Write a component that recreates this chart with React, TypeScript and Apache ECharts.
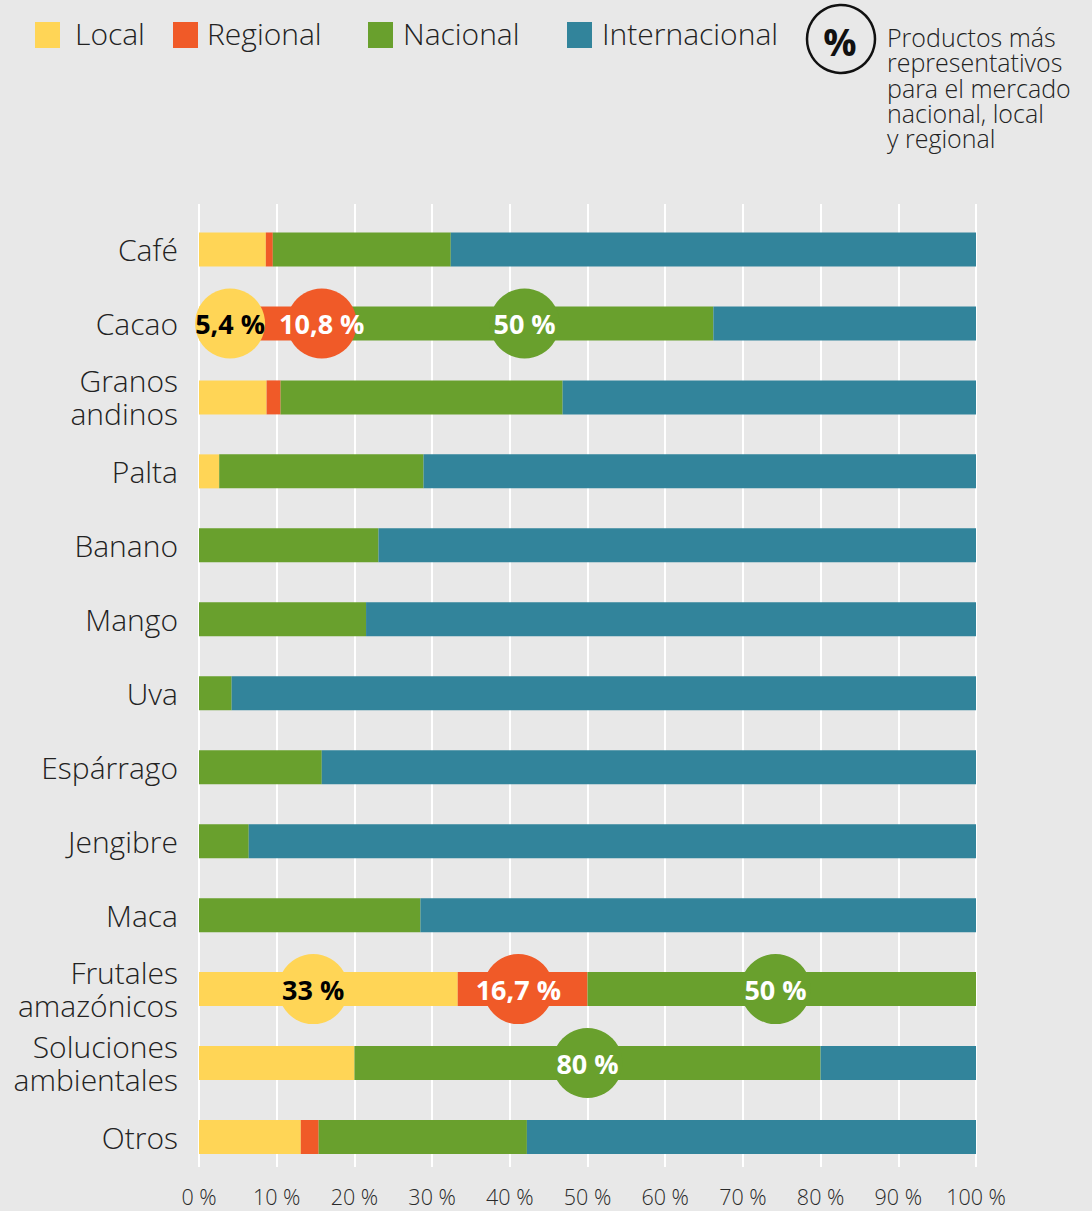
import React, { useEffect, useRef } from "react";
import * as echarts from "echarts";

// Products, top to bottom
const categories = [
  "Café",
  "Cacao",
  "Granos\nandinos",
  "Palta",
  "Banano",
  "Mango",
  "Uva",
  "Espárrago",
  "Jengibre",
  "Maca",
  "Frutales\namazónicos",
  "Soluciones\nambientales",
  "Otros",
];

// Share of each market (%)
const localValues = [8.6, 5.4, 8.7, 2.6, 0, 0, 0, 0, 0, 0, 33.3, 20, 13.1];
const regionalValues = [0.9, 10.8, 1.8, 0, 0, 0, 0, 0, 0, 0, 16.7, 0, 2.3];
const nacionalValues = [22.9, 50, 36.3, 26.3, 23.1, 21.5, 4.2, 15.8, 6.4, 28.5, 50, 60, 26.8];
const internacionalValues = [67.6, 33.8, 53.2, 71.1, 76.9, 78.5, 95.8, 84.2, 93.6, 71.5, 0, 20, 57.8];

// Highlighted shares (bubbles)
const bubbleCategories = [
  "Cacao",
  "Cacao",
  "Cacao",
  "Frutales\namazónicos",
  "Frutales\namazónicos",
  "Frutales\namazónicos",
  "Soluciones\nambientales",
];
const bubbleX = [4, 15.8, 41.9, 14.7, 41.1, 74.2, 50];
const bubbleLabels = ["5,4 %", "10,8 %", "50 %", "33 %", "16,7 %", "50 %", "80 %"];
const bubbleMarket = [0, 1, 2, 0, 1, 2, 2];

const xTicks = [0, 10, 20, 30, 40, 50, 60, 70, 80, 90, 100];

const seriesNames = ["Local", "Regional", "Nacional", "Internacional"];
const colors = ["#FFD556", "#F05A28", "#69A02D", "#32849B"];
const textColor = "#222222";
const font = "Open Sans";

export default function App() {
  const ref = useRef<HTMLDivElement>(null);

  useEffect(() => {
    if (!ref.current) return;
    const chart = echarts.init(ref.current, null, { renderer: "svg" });

    const values = [localValues, regionalValues, nacionalValues, internacionalValues];

    const barSeries = seriesNames.map((name, i) => ({
      name,
      type: "bar",
      stack: "total",
      xAxisIndex: 1,
      yAxisIndex: 1,
      barWidth: 34,
      itemStyle: { color: colors[i] },
      data: values[i],
      z: 2,
    }));

    const bubbleSeries = {
      type: "scatter",
      xAxisIndex: 1,
      yAxisIndex: 1,
      symbol: "circle",
      symbolSize: 70,
      z: 5,
      data: bubbleX.map((x, i) => ({
        value: [x, bubbleCategories[i]],
        itemStyle: { color: colors[bubbleMarket[i]], opacity: 1 },
        label: {
          show: true,
          position: "inside",
          formatter: bubbleLabels[i],
          color: bubbleMarket[i] === 0 ? "#000000" : "#ffffff",
          fontSize: 27,
          fontWeight: "bold",
          fontFamily: font,
        },
      })),
    };

    // Legend drawn as graphic elements
    const legendItems = [
      { x: 35, tx: 75 },
      { x: 173, tx: 207 },
      { x: 368, tx: 403 },
      { x: 567, tx: 602 },
    ];
    const legendGraphics: any[] = [];
    legendItems.forEach((it, i) => {
      legendGraphics.push({
        type: "rect",
        shape: { x: it.x, y: 22, width: 25, height: 26 },
        style: { fill: colors[i] },
      });
      legendGraphics.push({
        type: "text",
        x: it.tx,
        y: 33,
        style: {
          text: seriesNames[i],
          fontSize: 30,
          fontWeight: 300,
          fontFamily: font,
          fill: textColor,
          verticalAlign: "middle",
        },
      });
    });

    const noteLines = [
      "Productos más",
      "representativos",
      "para el mercado",
      "nacional, local",
      "y regional",
    ];

    const option = {
      backgroundColor: "#E8E8E8",
      animation: false,
      textStyle: { fontFamily: font },
      grid: [
        { left: 199, right: 116, top: 204, height: 963 },
        { left: 199, right: 116, top: 212.5, bottom: 37 },
      ],
      xAxis: [
        {
          gridIndex: 0,
          type: "value",
          min: xTicks[0],
          max: xTicks[xTicks.length - 1],
          interval: 10,
          axisLine: { show: false },
          axisTick: { show: false },
          splitLine: { show: true, lineStyle: { color: "#ffffff", width: 2 } },
          axisLabel: {
            formatter: (v: number) => `${v} %`,
            fontSize: 21.5,
            fontWeight: 300,
            color: "#2a2a2a",
            margin: 18,
            fontFamily: font,
          },
        },
        { gridIndex: 1, type: "value", min: 0, max: 100, show: false },
      ],
      yAxis: [
        { gridIndex: 0, type: "value", min: 0, max: 1, show: false },
        {
          gridIndex: 1,
          type: "category",
          inverse: true,
          data: categories,
          axisLine: { show: false },
          axisTick: { show: false },
          splitLine: { show: false },
          axisLabel: {
            fontSize: 30,
            fontWeight: 300,
            color: textColor,
            margin: 21,
            lineHeight: 33,
            fontFamily: font,
          },
        },
      ],
      graphic: [
        ...legendGraphics,
        {
          type: "circle",
          shape: { cx: 841, cy: 39, r: 34 },
          style: { fill: "none", stroke: "#111111", lineWidth: 2.5 },
        },
        {
          type: "text",
          x: 840,
          y: 41,
          style: {
            text: "%",
            fontSize: 37,
            fontWeight: "bold",
            fontFamily: font,
            fill: "#111111",
            align: "center",
            verticalAlign: "middle",
          },
        },
        ...noteLines.map((line, i) => ({
          type: "text",
          x: 887,
          y: 37 + i * 25.3,
          style: {
            text: line,
            fontSize: 25,
            fontWeight: 300,
            fontFamily: font,
            fill: textColor,
            verticalAlign: "middle",
          },
        })),
      ],
      series: [...barSeries, bubbleSeries],
    };

    chart.setOption(option as any);
    return () => chart.dispose();
  }, []);

  return (
    <div
      ref={ref}
      style={{ position: "fixed", left: 0, top: 0, width: 1092, height: 1211 }}
    />
  );
}
